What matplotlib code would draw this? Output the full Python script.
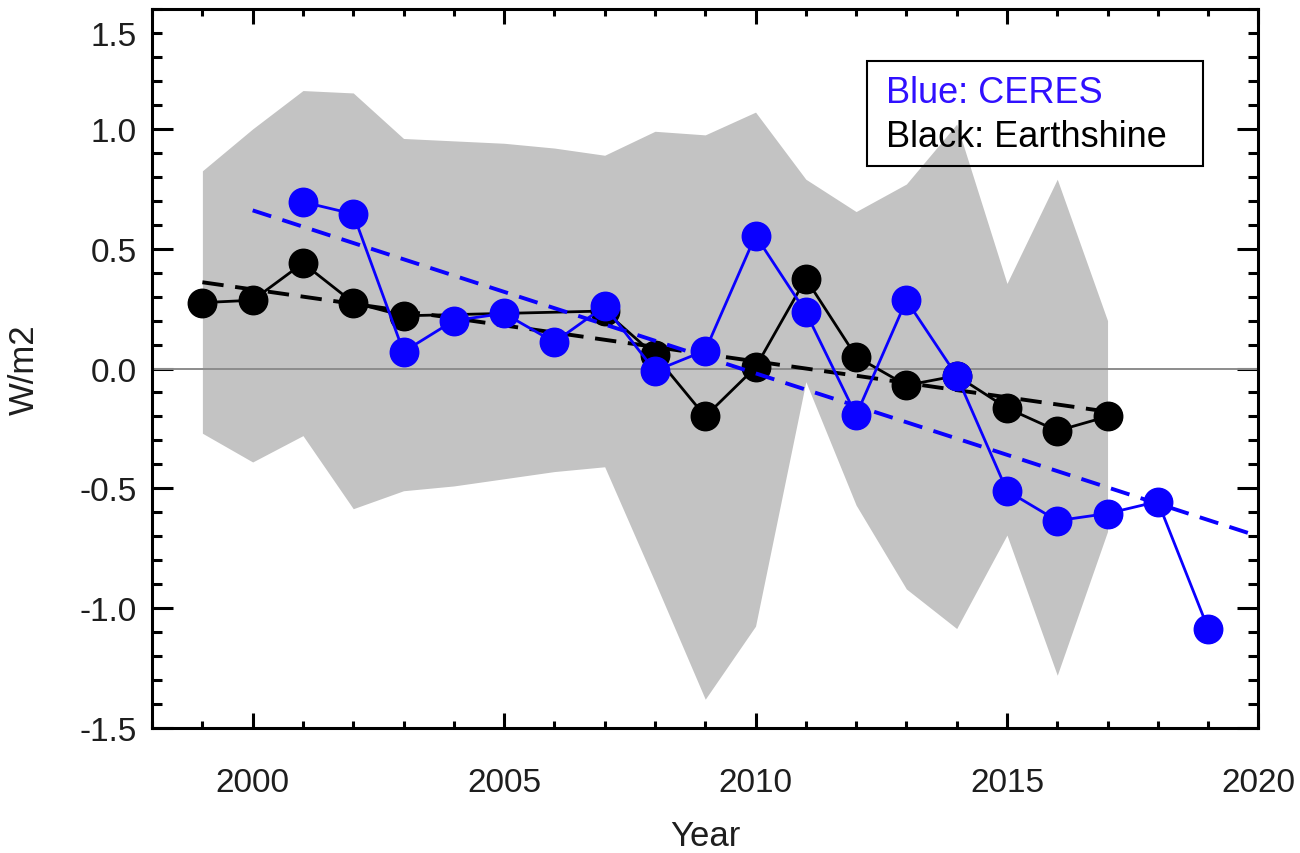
import matplotlib.pyplot as plt
import numpy as np
from matplotlib.patches import Rectangle
from matplotlib.ticker import MultipleLocator

plt.rcParams['font.family'] = ['Liberation Sans', 'DejaVu Sans']
plt.rcParams['font.size'] = 24
plt.rcParams['text.color'] = '#1e1e1e'
plt.rcParams['xtick.labelcolor'] = '#1e1e1e'
plt.rcParams['ytick.labelcolor'] = '#1e1e1e'
plt.rcParams['axes.labelcolor'] = '#1e1e1e'

# grey uncertainty band (earthshine)
band_years = np.arange(1999, 2018)
band_upper = [0.825, 1.00, 1.16, 1.15, 0.96, 0.95, 0.94, 0.92, 0.89, 0.99,
              0.975, 1.07, 0.79, 0.655, 0.77, 1.02, 0.355, 0.79, 0.20]
band_lower = [-0.27, -0.39, -0.28, -0.585, -0.51, -0.49, -0.46, -0.43, -0.41, -0.89,
              -1.38, -1.075, -0.055, -0.57, -0.92, -1.085, -0.695, -1.28, -0.68]

# Earthshine (black)
es_years = [1999, 2000, 2001, 2002, 2003, 2007, 2008, 2009, 2010, 2011,
            2012, 2013, 2014, 2015, 2016, 2017]
es_values = [0.275, 0.285, 0.44, 0.275, 0.22, 0.24, 0.055, -0.20, 0.005, 0.375,
             0.05, -0.07, -0.03, -0.165, -0.26, -0.20]

# CERES (blue)
ceres_years = np.arange(2001, 2020)
ceres_values = [0.695, 0.645, 0.07, 0.20, 0.23, 0.11, 0.26, -0.01, 0.075, 0.555,
                0.235, -0.195, 0.285, -0.03, -0.51, -0.635, -0.605, -0.555, -1.085]

# linear trends (end points)
es_trend_x = [1999, 2017]
es_trend_y = [0.36, -0.18]
ceres_trend_x = [2000, 2020]
ceres_trend_y = [0.66, -0.70]

ytick_pos = [-1.5, -1.0, -0.5, 0.0, 0.5, 1.0, 1.4]
ytick_labels = ['-1.5', '-1.0', '-0.5', '0.0', '0.5', '1.0', '1.5']

fig = plt.figure(figsize=(13, 8.54), dpi=100)
ax = fig.add_axes([0.117, 0.1464, 0.851, 0.8418])

ax.fill_between(band_years, band_lower, band_upper, color='#c3c3c3', lw=0, zorder=1)
ax.axhline(0, color='#8c8c8c', lw=1.4, zorder=2)

ax.plot(es_trend_x, es_trend_y, color='black', lw=2.8, dashes=(5.5, 3), zorder=3)
ax.plot(es_years, es_values, color='black', lw=2, marker='o', ms=20.5, zorder=4)
ax.plot(ceres_years, ceres_values, color='#0a00ff', lw=2, marker='o', ms=20.5, zorder=5)
ax.plot(ceres_trend_x, ceres_trend_y, color='#0a00ff', lw=2.8, dashes=(5, 3), zorder=6)

ax.set_xlim(1998, 2020)
ax.set_ylim(-1.5, 1.5)
ax.xaxis.set_major_locator(MultipleLocator(5))
ax.xaxis.set_minor_locator(MultipleLocator(1))
ax.set_yticks(ytick_pos)
ax.set_yticklabels(ytick_labels)
ax.yaxis.set_minor_locator(MultipleLocator(0.1))

for s in ax.spines.values():
    s.set_linewidth(2.2)
ax.tick_params(which='both', direction='in', top=True, right=True, width=2.2)
ax.tick_params(axis='x', which='major', length=11, pad=28)
ax.tick_params(axis='x', which='minor', length=5)
ax.tick_params(axis='y', which='major', length=15, pad=11)
ax.tick_params(axis='y', which='minor', length=7)
# the "1.5" label sits on a short tick in the original
last = ax.yaxis.get_major_ticks()[-1]
last.tick1line.set_markersize(7)
last.tick2line.set_markersize(7)

ax.set_xlabel('Year', fontsize=25)
ax.set_ylabel('W/m2', fontsize=25)
ax.xaxis.set_label_coords(0.5, -0.127)
ax.yaxis.set_label_coords(-0.101, 0.5)

# text box
ax.add_patch(Rectangle((0.6465, 0.7816), 0.3035, 0.1461, transform=ax.transAxes,
                       fill=False, edgecolor='black', lw=1.5, zorder=7))
ax.text(0.663, 0.8707, 'Blue: CERES', color='#3010ff', fontsize=26,
        transform=ax.transAxes, va='baseline', zorder=8)
ax.text(0.663, 0.8095, 'Black: Earthshine', color='black', fontsize=26,
        transform=ax.transAxes, va='baseline', zorder=8)

fig.savefig('out.png', dpi=100)
